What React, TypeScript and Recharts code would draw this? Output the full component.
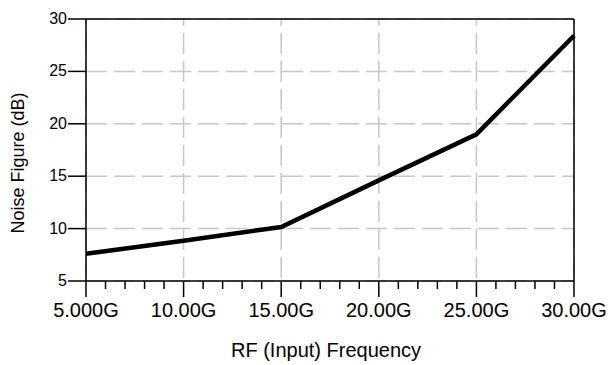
import React from "react";
import { LineChart, Line, XAxis, YAxis, CartesianGrid, ReferenceLine } from "recharts";

// frequency in GHz, noise figure in dB
const freqGHz = [5, 10, 15, 20, 25, 30];
const noiseFigure = [7.6, 8.85, 10.15, 14.6, 19.0, 28.4];
const xTickLabels = ["5.000G", "10.00G", "15.00G", "20.00G", "25.00G", "30.00G"];
const xAllTicks = [5, 6, 7, 8, 9, 10, 11, 12, 13, 14, 15, 16, 17, 18, 19, 20, 21, 22, 23, 24, 25, 26, 27, 28, 29, 30];
const yTicks = [5, 10, 15, 20, 25, 30];

const data = freqGHz.map((f, i) => ({ f, nf: noiseFigure[i] }));

const FONT = "'Liberation Sans', Arial, sans-serif";

function XTick({ x, y, payload }: any) {
  const i = freqGHz.indexOf(payload.value);
  const major = i >= 0;
  return (
    <g>
      <line x1={x} x2={x} y1={y} y2={y + (major ? 16 : 8)} stroke="#000" strokeWidth={1.5} />
      {major && (
        <text x={x} y={y + 36} textAnchor="middle" fontSize={20} fill="#000" fontFamily={FONT}>
          {xTickLabels[i]}
        </text>
      )}
    </g>
  );
}

function YTick({ x, y, payload }: any) {
  return (
    <g>
      <line x1={x - 18} x2={x} y1={y} y2={y} stroke="#000" strokeWidth={1.5} />
      <text x={x - 19} y={y + 5} textAnchor="end" fontSize={16} fill="#000" fontFamily={FONT}>
        {payload.value}
      </text>
    </g>
  );
}

export default function App() {
  return (
    <div style={{ position: "absolute", left: 0, top: 0, width: 612, height: 365, background: "#fff" }}>
      <LineChart width={612} height={365} data={data} margin={{ top: 19, right: 38, bottom: 0, left: 0 }}>
        <CartesianGrid
          vertical={false}
          horizontalValues={yTicks}
          stroke="#c6c6c6"
          strokeWidth={1.5}
          strokeDasharray="21 7"
        />
        <CartesianGrid
          horizontal={false}
          verticalValues={freqGHz}
          stroke="#c6c6c6"
          strokeWidth={1.5}
          strokeDasharray="21 7"
          strokeDashoffset={14}
        />
        <XAxis
          dataKey="f"
          type="number"
          domain={[5, 30]}
          ticks={xAllTicks}
          interval={0}
          height={84}
          tickSize={0}
          tickMargin={0}
          tickLine={false}
          tick={<XTick />}
          axisLine={{ stroke: "#000", strokeWidth: 1.5 }}
          label={{
            content: () => (
              <text x={326} y={357} textAnchor="middle" fontSize={20} fill="#000" fontFamily={FONT}>
                RF (Input) Frequency
              </text>
            ),
          }}
        />
        <YAxis
          type="number"
          domain={[5, 30]}
          ticks={yTicks}
          interval={0}
          width={86}
          tickSize={0}
          tickMargin={0}
          tickLine={false}
          tick={<YTick />}
          axisLine={{ stroke: "#000", strokeWidth: 1.5 }}
          label={{
            content: () => (
              <text
                x={24}
                y={163}
                transform="rotate(-90 24 163)"
                textAnchor="middle"
                fontSize={18}
                fill="#000"
                fontFamily={FONT}
              >
                Noise Figure (dB)
              </text>
            ),
          }}
        />
        <ReferenceLine y={30} stroke="#000" strokeWidth={1.5} />
        <ReferenceLine x={30} stroke="#000" strokeWidth={1.5} />
        <Line
          type="linear"
          dataKey="nf"
          stroke="#000"
          strokeWidth={4.5}
          dot={false}
          isAnimationActive={false}
        />
      </LineChart>
    </div>
  );
}
